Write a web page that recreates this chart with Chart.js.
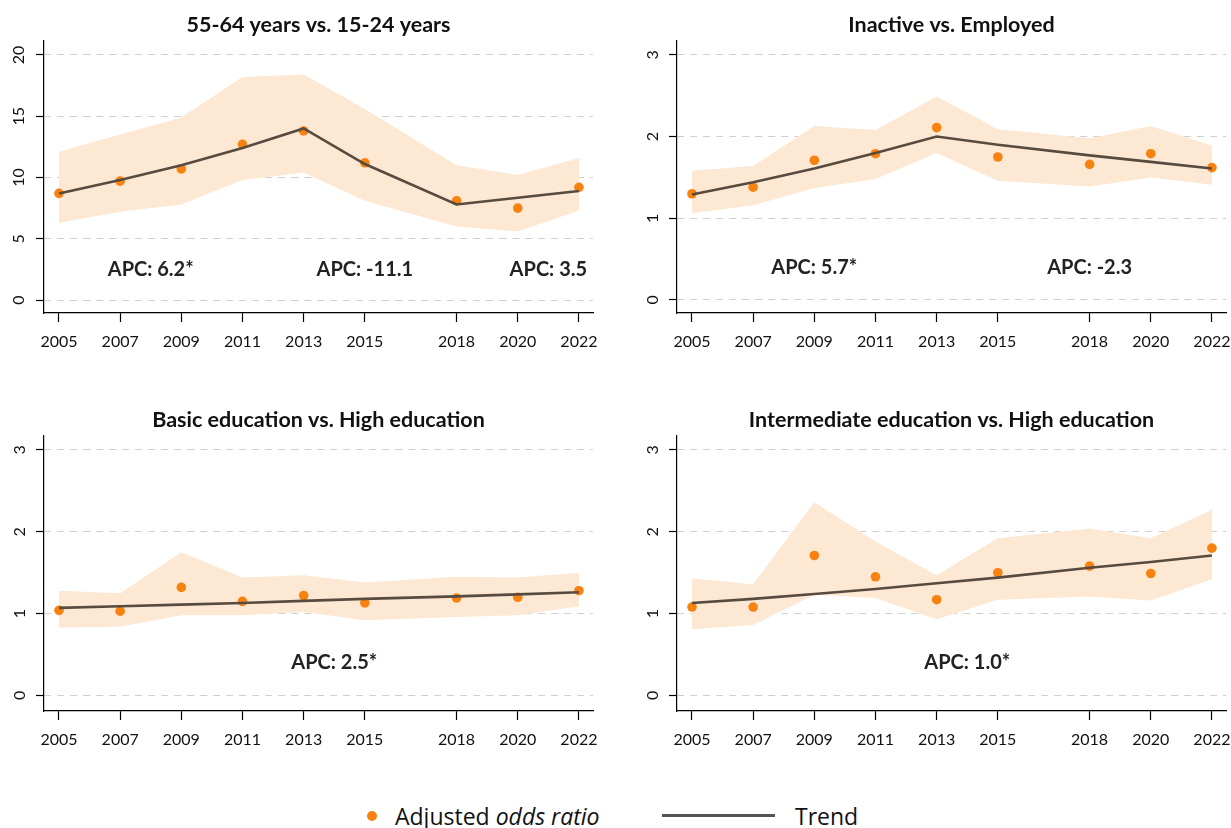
<!DOCTYPE html>
<html>
<head>
<meta charset="utf-8">
<title>Adjusted odds ratios 2005-2022</title>
<script src="https://cdn.jsdelivr.net/npm/chart.js@4.4.1/dist/chart.umd.min.js"></script>
<style>
  html, body { margin: 0; padding: 0; background: #fff; overflow: hidden; }
  body { width: 1231px; height: 828px; position: relative; font-family: "Open Sans", sans-serif; color: #111; }
  canvas { position: absolute; }
  .legend { position: absolute; top: 801px; height: 30px; line-height: 30px; font-size: 23px; white-space: nowrap; }
  .dot { position: absolute; left: 367px; top: 811px; width: 10px; height: 10px; border-radius: 50%; background: #f7820f; }
  .trendline { position: absolute; left: 662px; top: 814px; width: 113px; height: 3px; background: #555; }
</style>
</head>
<body>
<canvas id="age" width="615" height="360" style="left:0;top:0"></canvas>
<canvas id="activity" width="615" height="360" style="left:633px;top:0"></canvas>
<canvas id="basic" width="615" height="363" style="left:0;top:395px"></canvas>
<canvas id="inter" width="615" height="363" style="left:633px;top:395px"></canvas>

<div class="dot"></div>
<div class="legend" style="left:395px">Adjusted <i>odds ratio</i></div>
<div class="trendline"></div>
<div class="legend" style="left:795px">Trend</div>

<script>
// survey years (x axis ticks)
const years = [2005, 2007, 2009, 2011, 2013, 2015, 2018, 2020, 2022];

// y axis ticks
const ageTicks = [0, 5, 10, 15, 20];
const ratioTicks = [0, 1, 2, 3];

// 55-64 years vs. 15-24 years
const ageOR    = [8.7, 9.7, 10.7, 12.7, 13.8, 11.2, 8.1, 7.5, 9.2];
const ageLow   = [6.3, 7.2, 7.8, 9.8, 10.4, 8.1, 6.0, 5.6, 7.3];
const ageHigh  = [12.1, 13.5, 14.9, 18.2, 18.4, 15.6, 11.0, 10.2, 11.6];
const ageTrend = [8.7, 9.8, 11.0, 12.4, 14.0, 11.1, 7.8, 8.35, 8.9];
const ageApc   = ['APC: 6.2*', 'APC: -11.1', 'APC: 3.5'];

// Inactive vs. Employed
const actOR    = [1.30, 1.38, 1.71, 1.79, 2.11, 1.75, 1.66, 1.79, 1.62];
const actLow   = [1.06, 1.16, 1.37, 1.48, 1.80, 1.46, 1.39, 1.50, 1.41];
const actHigh  = [1.58, 1.64, 2.13, 2.08, 2.49, 2.09, 1.98, 2.13, 1.89];
const actTrend = [1.29, 1.44, 1.61, 1.80, 2.00, 1.90, 1.77, 1.69, 1.61];
const actApc   = ['APC: 5.7*', 'APC: -2.3'];

// Basic education vs. High education
const basicOR    = [1.04, 1.03, 1.32, 1.15, 1.22, 1.13, 1.19, 1.20, 1.28];
const basicLow   = [0.83, 0.84, 0.98, 0.98, 1.02, 0.92, 0.96, 0.98, 1.09];
const basicHigh  = [1.28, 1.25, 1.75, 1.44, 1.47, 1.38, 1.45, 1.44, 1.50];
const basicTrend = [1.07, 1.09, 1.11, 1.13, 1.155, 1.18, 1.21, 1.235, 1.26];
const basicApc   = ['APC: 2.5*'];

// Intermediate education vs. High education
const interOR    = [1.08, 1.08, 1.71, 1.45, 1.17, 1.50, 1.58, 1.49, 1.80];
const interLow   = [0.81, 0.86, 1.23, 1.19, 0.93, 1.17, 1.21, 1.16, 1.42];
const interHigh  = [1.43, 1.36, 2.36, 1.88, 1.47, 1.92, 2.04, 1.92, 2.27];
const interTrend = [1.13, 1.18, 1.24, 1.30, 1.37, 1.44, 1.56, 1.63, 1.71];
const interApc   = ['APC: 1.0*'];

const ORANGE = '#f7820f';
const BAND = '#fde8d3';
const TREND = '#574b40';
const INK = '#111';

const pts = vals => vals.map((v, i) => ({ x: years[i], y: v }));

// APC annotations, placed in data coordinates
const apcPlugin = {
    id: 'apc',
    afterDatasetsDraw(chart, args, opts) {
        const { ctx, scales } = chart;
        ctx.save();
        ctx.font = 'bold 20px Lato';
        ctx.fillStyle = '#222';
        ctx.textAlign = 'center';
        ctx.textBaseline = 'middle';
        opts.labels.forEach((text, i) => {
            ctx.fillText(text, scales.x.getPixelForValue(opts.at[i]), scales.y.getPixelForValue(opts.y));
        });
        ctx.restore();
    }
};

function makePanel(id, p) {
    const ctx = document.getElementById(id).getContext('2d');
    return new Chart(ctx, {
        type: 'line',
        data: {
            datasets: [
                { data: pts(p.low), borderWidth: 0, pointRadius: 0, fill: false, order: 3 },
                { data: pts(p.high), borderWidth: 0, pointRadius: 0, backgroundColor: BAND, fill: '-1', order: 2 },
                { data: pts(p.or), showLine: false, pointRadius: 4.8, pointBorderWidth: 0, pointBackgroundColor: ORANGE, order: 1 },
                { data: pts(p.trend), borderColor: TREND, borderWidth: 2.6, pointRadius: 0, tension: 0, fill: false, order: 0 }
            ]
        },
        options: {
            responsive: false,
            animation: false,
            devicePixelRatio: 1,
            layout: { padding: { left: 0, right: 22, top: 0, bottom: 0 } },
            plugins: {
                legend: { display: false },
                tooltip: { enabled: false },
                title: {
                    display: true,
                    text: p.title,
                    fullSize: false,
                    color: INK,
                    font: { family: 'Lato', size: 21.5, weight: 'bold', lineHeight: '24px' },
                    padding: { top: 13, bottom: 4 }
                },
                apc: { labels: p.apc, at: p.apcAt, y: p.apcY }
            },
            scales: {
                x: {
                    type: 'linear',
                    min: 2004.51,
                    max: 2022.46,
                    afterBuildTicks: s => { s.ticks = years.map(v => ({ value: v })); },
                    afterFit: s => { s.height = p.xHeight; },
                    grid: { drawOnChartArea: false, drawTicks: true, tickLength: 9, tickColor: '#000', tickWidth: 1.2 },
                    border: { display: true, color: '#000', width: 1.2 },
                    ticks: {
                        autoSkip: false, maxRotation: 0, padding: 10, color: INK,
                        font: { family: 'Lato', size: 16 },
                        callback: v => String(v)
                    }
                },
                y: {
                    type: 'linear',
                    min: p.yMin,
                    max: p.yMax,
                    afterBuildTicks: s => { s.ticks = p.yTicks.map(v => ({ value: v })); },
                    afterFit: s => { s.width = 44; },
                    grid: { color: '#cfcfcf', lineWidth: 1, drawTicks: true, tickLength: 8, tickColor: '#000', tickWidth: 1.2 },
                    border: { display: true, color: '#000', width: 1.2, dash: [7, 6] },
                    ticks: {
                        minRotation: 90, maxRotation: 90, crossAlign: 'center', padding: p.yPad, color: INK,
                        font: { family: 'Lato', size: 16 },
                        callback: v => String(v)
                    }
                }
            }
        },
        plugins: [apcPlugin]
    });
}

function build() {
    makePanel('age', {
        title: '55-64 years vs. 15-24 years',
        or: ageOR, low: ageLow, high: ageHigh, trend: ageTrend,
        yTicks: ageTicks, yMin: -1.06, yMax: 21.14, yPad: 8, xHeight: 47,
        apc: ageApc, apcAt: [2008, 2015, 2021], apcY: 2.5
    });
    makePanel('activity', {
        title: 'Inactive vs. Employed',
        or: actOR, low: actLow, high: actHigh, trend: actTrend,
        yTicks: ratioTicks, yMin: -0.16, yMax: 3.17, yPad: 12, xHeight: 47,
        apc: actApc, apcAt: [2009, 2018], apcY: 0.4
    });
    makePanel('basic', {
        title: 'Basic education vs. High education',
        or: basicOR, low: basicLow, high: basicHigh, trend: basicTrend,
        yTicks: ratioTicks, yMin: -0.19, yMax: 3.17, yPad: 12, xHeight: 47,
        apc: basicApc, apcAt: [2014], apcY: 0.4
    });
    makePanel('inter', {
        title: 'Intermediate education vs. High education',
        or: interOR, low: interLow, high: interHigh, trend: interTrend,
        yTicks: ratioTicks, yMin: -0.19, yMax: 3.17, yPad: 12, xHeight: 47,
        apc: interApc, apcAt: [2014], apcY: 0.4
    });
}

Promise.all([
    document.fonts.load('16px Lato'),
    document.fonts.load('bold 20px Lato'),
    document.fonts.load('23px "Open Sans"'),
    document.fonts.load('italic 23px "Open Sans"')
]).then(build, build);
</script>
</body>
</html>
